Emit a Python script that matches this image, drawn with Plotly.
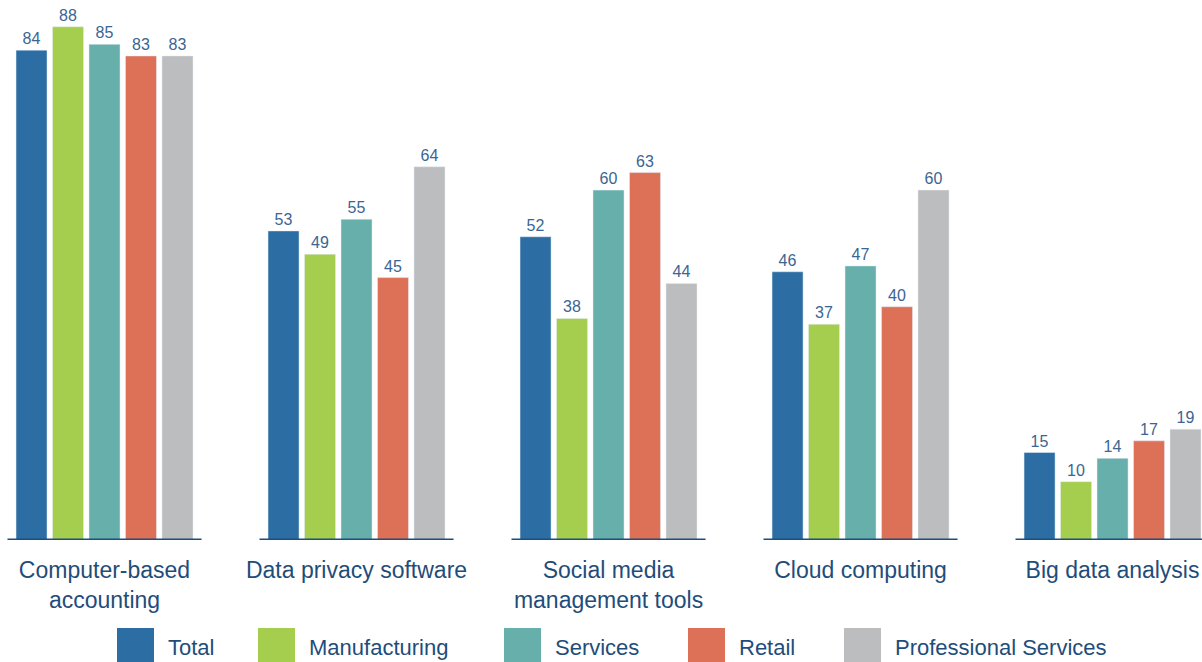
import plotly.graph_objects as go

categories = ["Computer-based<br>accounting", "Data privacy software",
              "Social media<br>management tools", "Cloud computing", "Big data analysis"]
series_names = ["Total", "Manufacturing", "Services", "Retail", "Professional Services"]
total = [84, 53, 52, 46, 15]
manufacturing = [88, 49, 38, 37, 10]
services = [85, 55, 60, 47, 14]
retail = [83, 45, 63, 40, 17]
professional = [83, 64, 44, 60, 19]
values = [total, manufacturing, services, retail, professional]

colors = ["#2c6ea3", "#a5cd4e", "#66afaa", "#dd7157", "#bcbdbf"]
text_color = "#1f4d7a"
label_color = "#3b6592"
base_color = "#1d4f7c"
FONT = "Liberation Sans, Arial, sans-serif"

W, H = 1202, 662
plot_h = 540

fig = go.Figure()
for name, vals, col in zip(series_names, values, colors):
    fig.add_trace(go.Bar(
        x=categories, y=vals, name=name, marker_color=col,
        text=[str(v) for v in vals], textposition="outside", textangle=0,
        textfont=dict(size=16, color=label_color, family=FONT),
        cliponaxis=False, showlegend=False,
    ))

# baseline segments under each group
for i in range(len(categories)):
    fig.add_shape(type="line", xref="x", yref="y", x0=i - 0.385, x1=i + 0.385,
                  y0=0, y1=0, line=dict(color=base_color, width=3))

# manual legend with large swatches
def py(p):
    return (plot_h - p) / plot_h

legend_swatch_x = [117, 258, 504, 688, 844]
sw = 37
for name, col, x in zip(series_names, colors, legend_swatch_x):
    fig.add_shape(type="rect", xref="paper", yref="paper",
                  x0=x / W, x1=(x + sw) / W, y0=py(628), y1=py(666),
                  fillcolor=col, line=dict(width=0))
    fig.add_annotation(xref="paper", yref="paper", x=(x + sw + 12) / W, y=py(647),
                       text=name, showarrow=False, xanchor="left", yanchor="middle",
                       font=dict(size=22, color=text_color, family=FONT))

fig.update_layout(
    width=W, height=H,
    margin=dict(l=0, r=0, t=0, b=H - plot_h, pad=0),
    paper_bgcolor="white", plot_bgcolor="white",
    barmode="group", bargap=0.276, bargroupgap=0.15,
    font=dict(family=FONT, color=text_color),
    xaxis=dict(range=[-0.4147, 4.355], showgrid=False, zeroline=False, showline=False,
               ticks="outside", ticklen=9, tickcolor="rgba(0,0,0,0)",
               tickfont=dict(size=23, color=text_color, family=FONT), fixedrange=True),
    yaxis=dict(range=[0, 92.6], visible=False, fixedrange=True),
)

fig.write_html("out.html", config={"displayModeBar": False},
               post_script="document.body.style.margin='0';document.body.style.overflow='hidden';")
